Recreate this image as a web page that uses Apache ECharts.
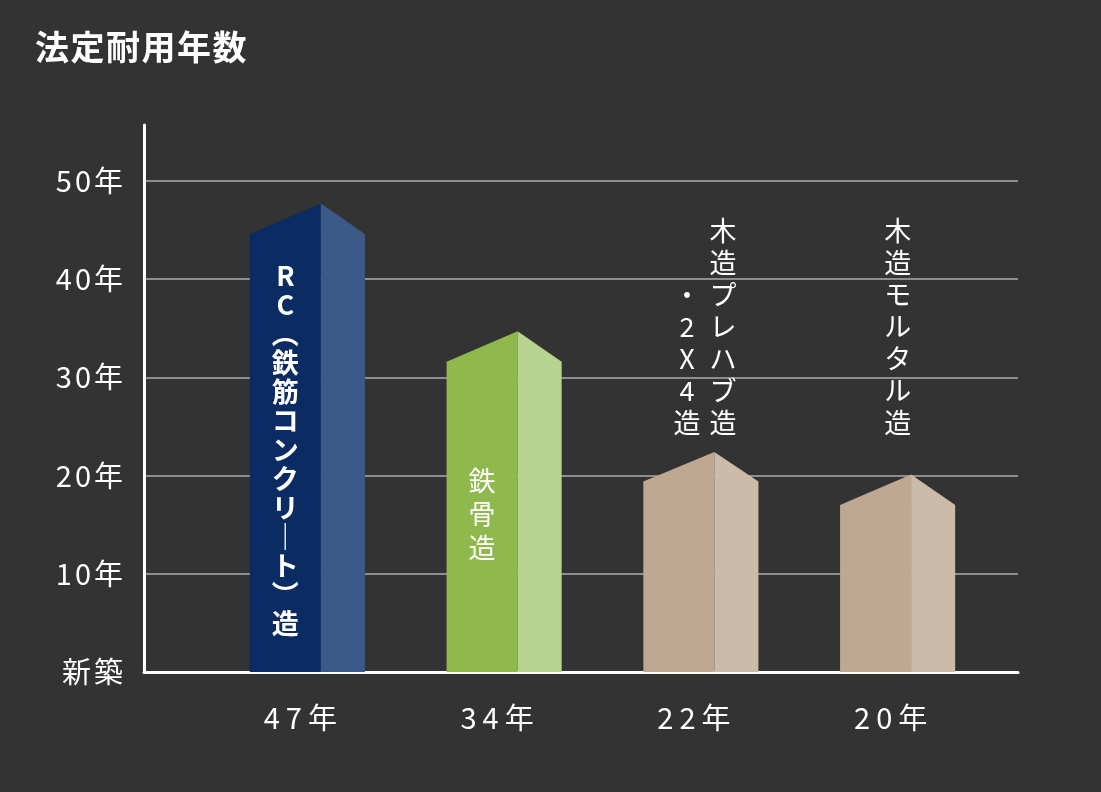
<!DOCTYPE html>
<html>
<head>
<meta charset="utf-8">
<script src="https://cdn.jsdelivr.net/npm/echarts@6/dist/echarts.min.js"></script>
<style>
html,body{margin:0;padding:0;background:#333333;}
#chart{width:1101px;height:792px;}
</style>
</head>
<body>
<div id="chart"></div>
<script>
// ---- data ----
const chartTitle = '法定耐用年数';
const categories = ['47年', '34年', '22年', '20年'];
const peakValues = [47.7, 34.7, 22.4, 20.1];      // roof ridge height (years)
const shoulderValues = [44.6, 31.6, 19.4, 17.0];  // roof eave height (years)
const yTickValues = [0, 10, 20, 30, 40, 50];
const yTickLabels = ['新築', '10年', '20年', '30年', '40年', '50年'];
// vertical labels: columns listed right-to-left
const barLabels = [
  ['RC︵鉄筋コンクリ｜ト︶造'],
  ['鉄骨造'],
  ['木造プレハブ造', '・2X4造'],
  ['木造モルタル造']
];
const labelInside = [true, true, false, false];
const faceColors = [
  ['#0b2c62', '#3b5a87'],
  ['#8fb84d', '#b7d390'],
  ['#bea891', '#ccbba8'],
  ['#bea891', '#ccbba8']
];

const FONT = '"Noto Sans CJK JP", "Noto Sans", sans-serif';
const Y_MAX = 55.7;

// letter-spaced text via rich segments
function spaced(str) {
  const chars = Array.from(str);
  return chars.map(function (c, k) {
    return (k < chars.length - 1 ? '{g|' : '{n|') + c + '}';
  }).join('');
}
function spacedRich(size, gap, weight) {
  const base = {color: '#ffffff', fontSize: size, fontFamily: FONT, fontWeight: weight || 'normal'};
  return {
    g: Object.assign({padding: [0, gap, 0, 0]}, base),
    n: Object.assign({}, base)
  };
}

const chart = echarts.init(document.getElementById('chart'), null, {renderer: 'canvas'});

function renderHouse(params, api) {
  const i = params.dataIndex;
  const top = api.coord([api.value(0), api.value(1)]);
  const sh = api.coord([api.value(0), api.value(2)]);
  const base = api.coord([api.value(0), 0]);
  const band = api.size([1, 0])[0];
  const bw = band * 0.585;
  const left = top[0] - bw / 2;
  const right = left + bw;
  const ridge = left + bw * 0.617;
  const cols = faceColors[i];
  const children = [
    {type: 'polygon', shape: {points: [[left, base[1]], [left, sh[1]], [ridge, top[1]], [ridge, base[1]]]}, style: {fill: cols[0]}},
    {type: 'polygon', shape: {points: [[ridge, base[1]], [ridge, top[1]], [right, sh[1]], [right, base[1]]]}, style: {fill: cols[1]}}
  ];
  const labels = barLabels[i];
  if (labelInside[i]) {
    const chars = Array.from(labels[0]);
    const lh = i === 0 ? 29 : 33.5;
    const cy = (sh[1] + base[1]) / 2 - 3;
    children.push({
      type: 'text',
      style: {
        text: chars.join('\n'), x: (left + ridge) / 2, y: cy,
        align: 'center', verticalAlign: 'middle',
        fill: '#ffffff', font: (i === 0 ? 'bold 27px ' : 'normal 27px ') + FONT,
        lineHeight: lh
      }
    });
  } else {
    const n = labels.length;
    const bottom = api.coord([api.value(0), 23.8])[1];
    labels.forEach(function (col, k) {
      const xOff = n > 1 ? 4 + ((n - 1) / 2 - k) * 36 : 0;
      children.push({
        type: 'text',
        style: {
          text: Array.from(col).join('\n'), x: top[0] + xOff, y: bottom,
          align: 'center', verticalAlign: 'bottom',
          fill: '#ffffff', font: 'normal 27px ' + FONT,
          lineHeight: 32
        }
      });
    });
  }
  return {type: 'group', children: children};
}

const option = {
  backgroundColor: '#333333',
  animation: false,
  textStyle: {fontFamily: FONT},
  title: {
    text: spaced(chartTitle), left: 30, top: 25,
    textStyle: {color: '#ffffff', fontSize: 34, fontWeight: 'bold', fontFamily: FONT, rich: spacedRich(34, 1.5, 'bold')}
  },
  grid: [
    {left: 144, right: 83, top: 125, bottom: 120},
    {left: 209, right: 105, top: 125, bottom: 120}
  ],
  xAxis: [
    {
      gridIndex: 0, type: 'value', min: 0, max: 1,
      axisLine: {show: true, lineStyle: {color: '#ffffff', width: 3}},
      axisTick: {show: false}, axisLabel: {show: false}, splitLine: {show: false}
    },
    {
      gridIndex: 1, type: 'category', data: categories,
      axisLine: {show: false}, axisTick: {show: false}, splitLine: {show: false},
      axisLabel: {
        interval: 0,
        color: '#ffffff', fontSize: 29, margin: 31, padding: [0, 14, 0, 0], fontFamily: FONT,
        formatter: function (v) { return spaced(v); },
        rich: spacedRich(29, 6)
      }
    }
  ],
  yAxis: [
    {
      gridIndex: 0, type: 'value', min: 0, max: Y_MAX, interval: 10,
      axisLine: {show: true, lineStyle: {color: '#ffffff', width: 3}},
      axisTick: {show: false},
      axisLabel: {
        color: '#ffffff', fontSize: 29, margin: 21, fontFamily: FONT,
        showMaxLabel: false,
        formatter: function (v) {
          const idx = yTickValues.indexOf(v);
          return idx >= 0 ? spaced(yTickLabels[idx]) : '';
        },
        rich: spacedRich(29, 3)
      },
      splitLine: {show: true, showMinLine: false, showMaxLine: false, lineStyle: {color: '#8e8e8e', width: 2}}
    },
    {
      gridIndex: 1, type: 'value', min: 0, max: Y_MAX, interval: 10, show: false,
      splitLine: {show: false}
    }
  ],
  series: [{
    type: 'custom',
    xAxisIndex: 1, yAxisIndex: 1,
    renderItem: renderHouse,
    encode: {x: 0, y: 1},
    data: categories.map(function (c, i) { return [i, peakValues[i], shoulderValues[i]]; }),
    z: 10
  }]
};
chart.setOption(option);
</script>
</body>
</html>
